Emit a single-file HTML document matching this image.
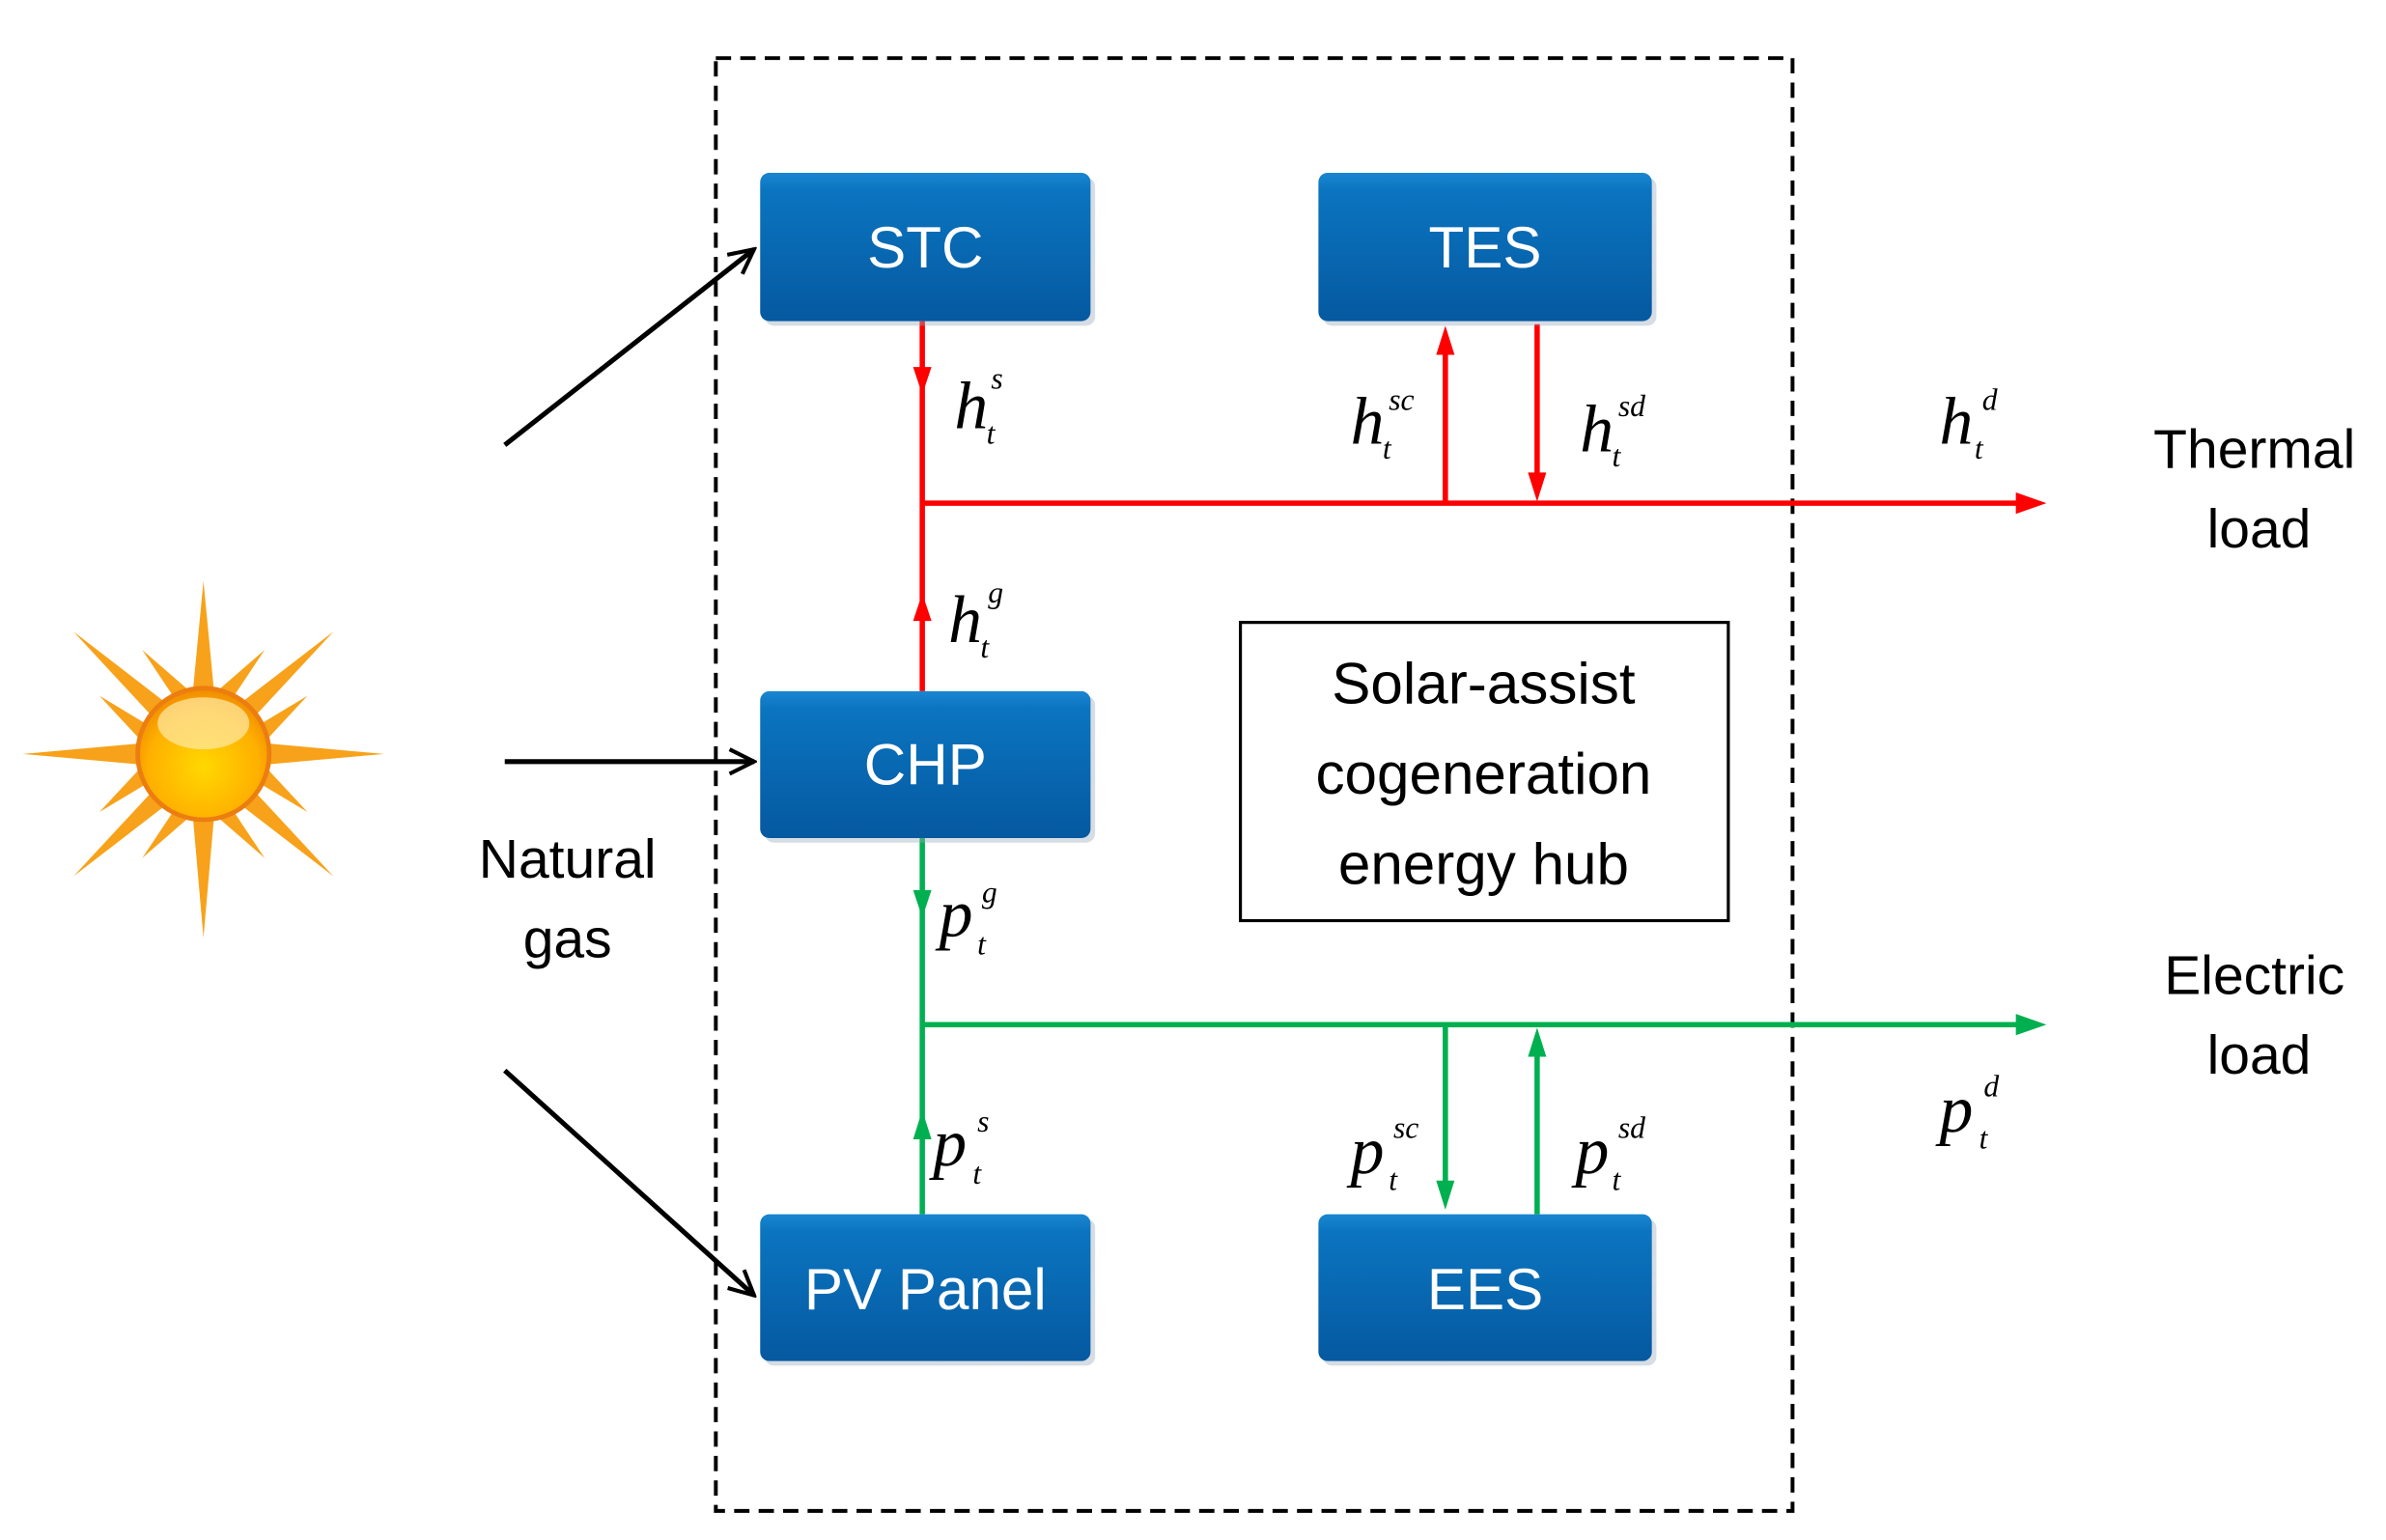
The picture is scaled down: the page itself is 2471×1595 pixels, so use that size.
<!DOCTYPE html>
<html><head><meta charset="utf-8"><style>html,body{margin:0;padding:0;background:#fff}svg{display:block}</style></head>
<body>
<svg width="2471" height="1595" viewBox="0 0 1560 1007" xmlns="http://www.w3.org/2000/svg">
<defs>
<linearGradient id="bg" x1="0" y1="0" x2="0" y2="1">
<stop offset="0" stop-color="#1a86d0"/><stop offset="0.12" stop-color="#0b74c0"/><stop offset="1" stop-color="#0559a0"/>
</linearGradient>
<radialGradient id="sg" cx="0.5" cy="0.6" r="0.6">
<stop offset="0" stop-color="#ffd800"/><stop offset="0.7" stop-color="#ffb000"/><stop offset="1" stop-color="#f08a00"/>
</radialGradient>
<marker id="ak" viewBox="0 0 10 10" refX="9" refY="5" markerWidth="20" markerHeight="20" orient="auto" markerUnits="userSpaceOnUse"><path d="M1,1L9,5L1,9" fill="none" stroke="#000" stroke-width="1.3"/></marker>
</defs>
<rect x="468" y="38" width="704" height="950" fill="none" stroke="#000" stroke-width="2.5" stroke-dasharray="10,6"/>
<g transform="translate(133,493)">
<g fill="#f7a21a">
<polygon points="-118,0 -40,-7 -40,7"/><polygon points="118,0 40,-7 40,7"/>
<polygon points="0,-113 -7,-40 7,-40"/><polygon points="0,120 -7,40 7,40"/>
<polygon points="-85,-80 -33,-24 -24,-33"/><polygon points="85,-80 33,-24 24,-33"/>
<polygon points="-85,80 -33,24 -24,33"/><polygon points="85,80 33,24 24,33"/>
<polygon points="-40,-68 -20,-38 -10,-42"/><polygon points="40,-68 20,-38 10,-42"/>
<polygon points="-40,68 -20,38 -10,42"/><polygon points="40,68 20,38 10,42"/>
<polygon points="-68,-38 -38,-20 -42,-10"/><polygon points="68,-38 38,-20 42,-10"/>
<polygon points="-68,38 -38,20 -42,10"/><polygon points="68,38 38,20 42,10"/>
</g>
<circle r="43" fill="url(#sg)" stroke="#ec7d10" stroke-width="3"/>
<ellipse cx="0" cy="-20" rx="30" ry="17" fill="#ffe9a8" opacity="0.7"/>
</g>
<g stroke="#000" stroke-width="3.2" fill="none">
<line x1="330" y1="291" x2="493" y2="163" marker-end="url(#ak)"/>
<line x1="330" y1="498" x2="493" y2="498" marker-end="url(#ak)"/>
<line x1="330" y1="700" x2="493" y2="847" marker-end="url(#ak)"/>
</g>
<g stroke="#ff0000" stroke-width="3.5" fill="none">
<line x1="603" y1="210" x2="603" y2="452"/>
<line x1="603" y1="329" x2="1330" y2="329"/>
<line x1="945" y1="329" x2="945" y2="225"/>
<line x1="1005" y1="212" x2="1005" y2="315"/>
</g>
<g fill="#ff0000">
<polygon points="597,240 609,240 603,258"/>
<polygon points="597,406 609,406 603,388"/>
<polygon points="939,232 951,232 945,213"/>
<polygon points="999,309 1011,309 1005,328"/>
<polygon points="1318,322 1318,336 1338,329"/>
</g>
<g stroke="#00b050" stroke-width="3.5" fill="none">
<line x1="603" y1="548" x2="603" y2="794"/>
<line x1="603" y1="670" x2="1330" y2="670"/>
<line x1="945" y1="670" x2="945" y2="778"/>
<line x1="1005" y1="794" x2="1005" y2="685"/>
</g>
<g fill="#00b050">
<polygon points="597,582 609,582 603,600"/>
<polygon points="597,745 609,745 603,726"/>
<polygon points="939,772 951,772 945,791"/>
<polygon points="999,691 1011,691 1005,672"/>
<polygon points="1318,663 1318,677 1338,670"/>
</g>
<g font-family="'Liberation Sans',sans-serif" font-size="38" fill="#fff" text-anchor="middle">
<g><rect x="500" y="116" width="216" height="97" rx="6" fill="#9ab" opacity="0.4"/><rect x="497" y="113" width="216" height="97" rx="6" fill="url(#bg)"/><text x="605" y="175">STC</text></g>
<g><rect x="865" y="116" width="218" height="97" rx="6" fill="#9ab" opacity="0.4"/><rect x="862" y="113" width="218" height="97" rx="6" fill="url(#bg)"/><text x="971" y="175">TES</text></g>
<g><rect x="500" y="455" width="216" height="96" rx="6" fill="#9ab" opacity="0.4"/><rect x="497" y="452" width="216" height="96" rx="6" fill="url(#bg)"/><text x="605" y="513">CHP</text></g>
<g><rect x="500" y="797" width="216" height="96" rx="6" fill="#9ab" opacity="0.4"/><rect x="497" y="794" width="216" height="96" rx="6" fill="url(#bg)"/><text x="605" y="856">PV Panel</text></g>
<g><rect x="865" y="797" width="218" height="96" rx="6" fill="#9ab" opacity="0.4"/><rect x="862" y="794" width="218" height="96" rx="6" fill="url(#bg)"/><text x="971" y="856">EES</text></g>
</g>
<rect x="811" y="407" width="319" height="195" fill="#fff" stroke="#000" stroke-width="2"/>
<g font-family="'Liberation Sans',sans-serif" font-size="38" fill="#000" text-anchor="middle">
<text x="970" y="460">Solar-assist</text>
<text x="970" y="519">cogeneration</text>
<text x="970" y="578">energy hub</text>
</g>
<g font-family="'Liberation Sans',sans-serif" font-size="36" fill="#000" text-anchor="middle">
<text x="1474" y="306">Thermal</text><text x="1477" y="358">load</text>
<text x="1474" y="650">Electric</text><text x="1477" y="702">load</text>
<text x="371" y="574">Natural</text><text x="371" y="626">gas</text>
</g>
<g font-family="'Liberation Serif',serif" font-style="italic" fill="#000">
<g font-size="44">
<text x="624" y="280">h</text>
<text x="883" y="290">h</text>
<text x="1033" y="295">h</text>
<text x="1268" y="290">h</text>
<text x="620" y="420">h</text>
<text x="614" y="612">p</text>
<text x="610" y="762">p</text>
<text x="883" y="767">p</text>
<text x="1030" y="767">p</text>
<text x="1268" y="740">p</text>
</g>
<g font-size="20">
<text x="648" y="254">s</text><text x="645" y="290">t</text>
<text x="908" y="268">sc</text><text x="904" y="300">t</text>
<text x="1058" y="272">sd</text><text x="1054" y="305">t</text>
<text x="1296" y="268">d</text><text x="1291" y="300">t</text>
<text x="646" y="394">g</text><text x="641" y="430">t</text>
<text x="642" y="590">g</text><text x="639" y="624">t</text>
<text x="639" y="740">s</text><text x="636" y="774">t</text>
<text x="911" y="744">sc</text><text x="908" y="778">t</text>
<text x="1058" y="744">sd</text><text x="1054" y="778">t</text>
<text x="1297" y="717">d</text><text x="1294" y="751">t</text>
</g>
</g>
</svg>
</body></html>
